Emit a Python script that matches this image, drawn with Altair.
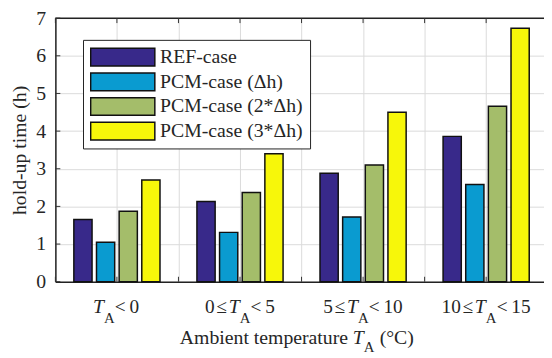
import altair as alt
import pandas as pd

# ---- data ----
categories = ["T_A<0", "0≤T_A<5", "5≤T_A<10", "10≤T_A<15"]
label_lower = ["", "0", "5", "10"]
label_upper = ["0", "5", "10", "15"]
series = ["REF-case", "PCM-case (Δh)", "PCM-case (2*Δh)", "PCM-case (3*Δh)"]
ref_case = [1.65, 2.13, 2.88, 3.86]
pcm_1 = [1.05, 1.31, 1.72, 2.58]
pcm_2 = [1.87, 2.37, 3.10, 4.66]
pcm_3 = [2.70, 3.40, 4.50, 6.73]
colors = ["#38298a", "#0a9bd0", "#a4bd6a", "#f7f70a"]
y_ticks = [0, 1, 2, 3, 4, 5, 6, 7]
x_grid = [0.5, 1, 1.5, 2, 2.5, 3, 3.5, 4, 4.5]

values = [ref_case, pcm_1, pcm_2, pcm_3]
rows = []
for gi, cat in enumerate(categories):
    for si, s in enumerate(series):
        rows.append(dict(category=cat, gi=gi + 1, series=s, si=si, value=values[si][gi]))
df = pd.DataFrame(rows)
lab_df = pd.DataFrame(dict(gi=[1, 2, 3, 4], lower=label_lower, upper=label_upper))
ytick_df = pd.DataFrame(dict(t=y_ticks))
xtick_df = pd.DataFrame(dict(t=[v for v in x_grid if v < 4.47]))

# ---- layout ----
W, H = 495, 267
X0, X1 = 0.5, 4.47
PPU = W / (X1 - X0)
FONT = "Liberation Serif"
TXT = "#262626"
GRID = "#dadada"
TICK = "#333"
TS = "\u2009"
HS = "\u200a"

x_scale = alt.Scale(domain=[X0, X1], nice=False, zero=False)
y_scale = alt.Scale(domain=[0, 7], nice=False)
x_axis = alt.Axis(values=x_grid, labels=False, ticks=False, grid=True,
                  gridColor=GRID, gridWidth=1, domainColor="#222",
                  domainWidth=1.5, title=None)
y_axis = alt.Axis(values=y_ticks, ticks=False, grid=True, gridColor=GRID, gridWidth=1,
                  domainColor="#222", domainWidth=1.5, labelOverlap=False,
                  labelFont=FONT, labelFontSize=20, labelColor=TXT, labelPadding=10,
                  title="hold-up time (h)", titleFont=FONT, titleFontSize=20,
                  titleFontWeight="normal", titleColor=TXT, titlePadding=6)

bars = alt.Chart(df).transform_calculate(
    xs="datum.gi + (datum.si - 1.5) * 0.184 - 0.074",
    xe="datum.gi + (datum.si - 1.5) * 0.184 + 0.074",
).mark_bar(stroke="#111", strokeWidth=1.5).encode(
    x=alt.X("xs:Q", scale=x_scale, axis=x_axis),
    x2="xe:Q",
    y=alt.Y("value:Q", scale=y_scale, stack=None, axis=y_axis),
    y2=alt.datum(0),
    color=alt.Color("series:N", scale=alt.Scale(domain=series, range=colors),
                    legend=alt.Legend(orient="none", legendX=28, legendY=22, direction="vertical",
                                      title=None, strokeColor="#222", fillColor="white",
                                      padding=7, symbolType="M-1,-0.55H3V0.55H-1Z",
                                      symbolSize=1056, symbolStrokeColor="#111",
                                      symbolStrokeWidth=1.5, symbolOpacity=1,
                                      labelFont=FONT, labelFontSize=20, labelColor=TXT,
                                      labelOffset=37, rowPadding=4, clipHeight=21,
                                      labelExpr="datum.label + '\u00a0\u00a0'")),
)

top_border = alt.Chart(pd.DataFrame({"a": [0]})).mark_rule(color="#222", strokeWidth=1.5).encode(
    x=alt.value(0), x2=alt.value(W), y=alt.value(0),
)

# inward tick marks (MATLAB style)
ytick_marks = alt.Chart(ytick_df).mark_rule(color=TICK, strokeWidth=1).encode(
    y=alt.Y("t:Q", scale=y_scale, axis=y_axis), x=alt.value(0), x2=alt.value(5))
xtick_top = alt.Chart(xtick_df).mark_rule(color=TICK, strokeWidth=1).encode(
    x=alt.X("t:Q", scale=x_scale, axis=x_axis), y=alt.value(0), y2=alt.value(5))
xtick_bot = alt.Chart(xtick_df).mark_rule(color=TICK, strokeWidth=1).encode(
    x=alt.X("t:Q", scale=x_scale, axis=x_axis), y=alt.value(H), y2=alt.value(H - 5))

TW, AW, REL, DIG = 13, 11, 10.8, 9.75
lab_base = alt.Chart(lab_df).transform_calculate(
    pre=f"datum.lower ? datum.lower + '{HS}≤{TS}' : ''",
    suf=f"'{TS}<{TS}' + datum.upper",
    prew=f"datum.lower ? length(datum.lower) * {DIG} + {REL} + 5.1 : 0",
    sufw=f"length(datum.upper) * {DIG} + {REL} + 7.8",
).transform_calculate(
    anchor=f"datum.gi + ({TW} + datum.prew - {AW} - datum.sufw) / 2 / {PPU}"
)

LY = H + 32
lab_T = lab_base.mark_text(font=FONT, fontSize=20, fontStyle="italic", align="right",
                           baseline="alphabetic", color=TXT).encode(
    x=alt.X("anchor:Q", scale=x_scale, axis=x_axis), y=alt.value(LY), text=alt.value("T"))
lab_pre = lab_base.mark_text(font=FONT, fontSize=19.5, align="right", dx=-TW,
                             baseline="alphabetic", color=TXT).encode(
    x=alt.X("anchor:Q", scale=x_scale, axis=x_axis), y=alt.value(LY), text="pre:N")
lab_A = lab_base.mark_text(font=FONT, fontSize=15, align="left",
                           baseline="alphabetic", color=TXT).encode(
    x=alt.X("anchor:Q", scale=x_scale, axis=x_axis), y=alt.value(LY + 10), text=alt.value("A"))
lab_suf = lab_base.mark_text(font=FONT, fontSize=19.5, align="left", dx=AW,
                             baseline="alphabetic", color=TXT).encode(
    x=alt.X("anchor:Q", scale=x_scale, axis=x_axis), y=alt.value(LY), text="suf:N")

TA = W / 2 + 65
TY = H + 63
one = pd.DataFrame({"a": [0]})
t_main = alt.Chart(one).mark_text(
    font=FONT, fontSize=20, align="right", dx=-16, baseline="alphabetic", color=TXT).encode(
    x=alt.value(TA), y=alt.value(TY), text=alt.value("Ambient temperature"))
t_T = alt.Chart(one).mark_text(
    font=FONT, fontSize=20, fontStyle="italic", align="right", baseline="alphabetic", color=TXT).encode(
    x=alt.value(TA), y=alt.value(TY), text=alt.value("T"))
t_A = alt.Chart(one).mark_text(
    font=FONT, fontSize=15, align="left", baseline="alphabetic", color=TXT).encode(
    x=alt.value(TA), y=alt.value(TY + 8), text=alt.value("A"))
t_C = alt.Chart(one).mark_text(
    font=FONT, fontSize=20, align="left", dx=16, baseline="alphabetic", color=TXT).encode(
    x=alt.value(TA), y=alt.value(TY), text=alt.value("(°C)"))

chart = alt.layer(bars, top_border, ytick_marks, xtick_top, xtick_bot,
                  lab_T, lab_pre, lab_A, lab_suf, t_main, t_T, t_A, t_C).properties(
    width=W, height=H,
    autosize=alt.AutoSizeParams(type="none"),
    padding={"left": 48, "top": 8, "right": 0, "bottom": 74},
    background="white",
).configure_view(stroke=None).configure_axis(labelFont=FONT, titleFont=FONT)

chart.save("out.html", embed_options={"renderer": "svg", "actions": False})
